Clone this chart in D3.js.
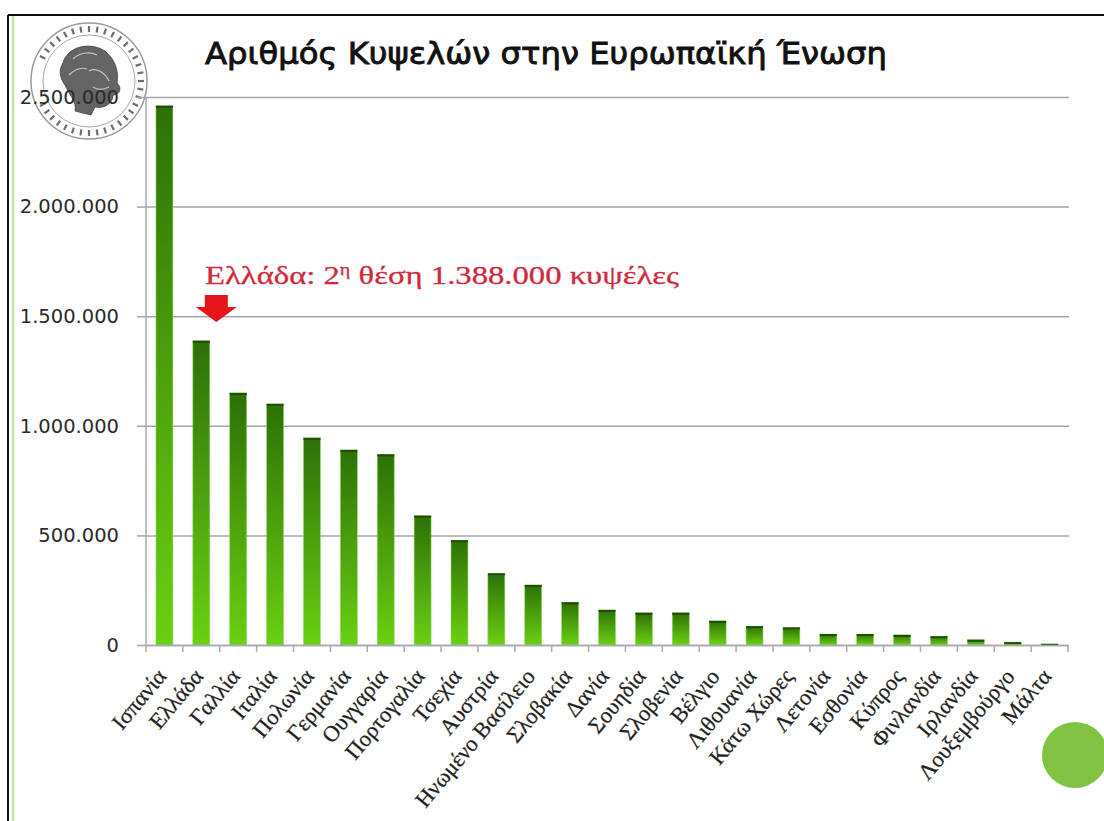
<!DOCTYPE html>
<html>
<head>
<meta charset="utf-8">
<script src="https://cdn.jsdelivr.net/npm/d3@7/dist/d3.min.js"></script>
<style>
  html, body { margin: 0; padding: 0; background: #fff; }
  svg { display: block; }
</style>
</head>
<body>
<svg id="chart" width="1104" height="821"></svg>
<script>
// ---- data ----
const categories = ["Ισπανία","Ελλάδα","Γαλλία","Ιταλία","Πολωνία","Γερμανία","Ουγγαρία","Πορτογαλία","Τσεχία","Αυστρία","Ηνωμένο Βασίλειο","Σλοβακία","Δανία","Σουηδία","Σλοβενία","Βέλγιο","Λιθουανία","Κάτω Χώρες","Λετονία","Εσθονία","Κύπρος","Φινλανδία","Ιρλανδία","Λουξεμβούργο","Μάλτα"];
const hives = [2460000,1388000,1150000,1100000,945000,890000,870000,590000,478000,327000,274000,195000,160000,147000,147000,110000,86000,80000,50000,50000,46000,40000,24000,13000,5000];
const yTickValues = [0,500000,1000000,1500000,2000000,2500000];
const yTickLabels = ["0","500.000","1.000.000","1.500.000","2.000.000","2.500.000"];
const titleText = "Αριθμός Κυψελών στην Ευρωπαϊκή Ένωση";
const highlightCategory = "Ελλάδα";

// ---- layout ----
const svg = d3.select("#chart");
const x0 = 146, x1 = 1068, yBase = 645, yTop = 97;

const x = d3.scaleBand().domain(categories).range([x0, x1]).paddingInner(0.54).paddingOuter(0.27);
const y = d3.scaleLinear().domain([0, 2500000]).range([yBase, yTop]);

const defs = svg.append("defs");
const grad = defs.append("linearGradient").attr("id","barGrad")
  .attr("x1",0).attr("y1",0).attr("x2",0).attr("y2",1);
grad.append("stop").attr("offset","0%").attr("stop-color","#2d7008");
grad.append("stop").attr("offset","45%").attr("stop-color","#4a9c0c");
grad.append("stop").attr("offset","100%").attr("stop-color","#6ad012");

// frame
svg.append("line").attr("x1",8).attr("y1",15).attr("x2",1104).attr("y2",15).attr("stroke","#111").attr("stroke-width",2);
svg.append("line").attr("x1",8).attr("y1",15).attr("x2",8).attr("y2",821).attr("stroke","#111").attr("stroke-width",2);
svg.append("line").attr("x1",13).attr("y1",16).attr("x2",13).attr("y2",821).attr("stroke","#bfe39a").attr("stroke-width",2.5);

// gridlines
svg.append("g").attr("transform",`translate(${x0},0)`)
  .call(d3.axisLeft(y).tickValues(yTickValues).tickSize(-(1069 - x0)).tickFormat(""))
  .call(g => g.select(".domain").remove())
  .call(g => g.selectAll("line").attr("stroke","#a6a6a6").attr("stroke-width",1.5));

// logo seal (drawn under the axis labels)
const logo = svg.append("g").attr("transform","translate(89,81)").attr("opacity",0.85);
logo.append("circle").attr("r",58).attr("fill","#fff").attr("fill-opacity",0.4).attr("stroke","#8a8a8a").attr("stroke-width",1.5);
logo.append("circle").attr("r",46).attr("fill","none").attr("stroke","#9a9a9a").attr("stroke-width",1);
const marks = d3.range(0, 360, 9).filter(a => !(a > 160 && a < 200));
logo.append("g").selectAll("line").data(marks).join("line")
  .attr("x1", a => 49 * Math.cos(a * Math.PI / 180)).attr("y1", a => 49 * Math.sin(a * Math.PI / 180))
  .attr("x2", a => 55 * Math.cos(a * Math.PI / 180)).attr("y2", a => 55 * Math.sin(a * Math.PI / 180))
  .attr("stroke","#555").attr("stroke-width",2.2);
logo.append("path")
  .attr("d","M-26,-18 C-22,-34 0,-40 16,-30 C26,-22 30,-10 28,2 C34,8 30,14 24,14 C24,22 16,28 6,26 L2,34 L-14,30 C-12,20 -20,14 -24,4 C-30,-4 -30,-12 -26,-18 Z")
  .attr("fill","#4a4a4a").attr("stroke","#222").attr("stroke-width",0.8);
logo.append("path")
  .attr("d","M0,-10 C8,-14 16,-8 20,0 M4,6 C10,10 16,8 20,6 M-16,-22 C-10,-28 0,-30 8,-26 M-20,-6 C-14,-12 -8,-14 -2,-12")
  .attr("fill","none").attr("stroke","#bbb").attr("stroke-width",1.2);

// y axis
const yAxis = svg.append("g").attr("transform",`translate(${x0},0)`)
  .call(d3.axisLeft(y).tickValues(yTickValues).tickSize(9).tickPadding(18)
    .tickFormat((d,i) => yTickLabels[i]));
yAxis.select(".domain").attr("stroke","#a9a9b5").attr("stroke-width",1.5).attr("d",`M0,${yTop}V${yBase}`);
yAxis.selectAll(".tick line").attr("stroke","#a6a6a6").attr("stroke-width",1.5);
yAxis.selectAll(".tick text").attr("font-family","DejaVu Sans, sans-serif").attr("font-size",19.5).attr("fill","#2a2a2a");

// bars
svg.append("g").selectAll("rect").data(categories).join("rect")
  .attr("x", d => x(d))
  .attr("y", (d,i) => y(hives[i]))
  .attr("width", x.bandwidth())
  .attr("height", (d,i) => yBase - y(hives[i]))
  .attr("fill","url(#barGrad)")
  .attr("stroke","#9ad86a").attr("stroke-width",0.6);
svg.append("g").selectAll("line").data(categories).join("line")
  .attr("x1", d => x(d)).attr("x2", d => x(d) + x.bandwidth())
  .attr("y1", (d,i) => y(hives[i]) + 1).attr("y2", (d,i) => y(hives[i]) + 1)
  .attr("stroke","#1f4d06").attr("stroke-width",2);

// x axis
const xAxis = svg.append("g").attr("transform",`translate(0,${yBase})`)
  .call(d3.axisBottom(x).tickSize(0).tickPadding(0));
xAxis.select(".domain").attr("stroke","#a9a9b5").attr("stroke-width",1.5);
xAxis.selectAll(".tick text")
  .attr("font-family","Liberation Serif, DejaVu Serif, serif")
  .attr("font-size",22.5).attr("fill","#222")
  .attr("stroke","#222").attr("stroke-width",0.25)
  .attr("text-anchor","end").attr("y",0).attr("dy",0).attr("x",0)
  .attr("transform","translate(3,32) rotate(-50)");
const step = x.step(), gap = step - x.bandwidth();
const bounds = categories.map(c => x(c) - gap / 2).concat([x(categories[categories.length-1]) + x.bandwidth() + gap/2]);
svg.append("g").selectAll("line").data(bounds).join("line")
  .attr("x1", d => d).attr("x2", d => d).attr("y1", yBase).attr("y2", yBase + 7)
  .attr("stroke","#a9a9b5").attr("stroke-width",1.5);

// title
svg.append("text").attr("x",205).attr("y",64).text(titleText)
  .attr("font-family","DejaVu Sans, sans-serif").attr("font-size",31)
  .attr("fill","#111").attr("stroke","#111").attr("stroke-width",0.9)
  .attr("textLength",682).attr("lengthAdjust","spacingAndGlyphs");

// annotation
const hiIdx = categories.indexOf(highlightCategory);
const hx = x(highlightCategory) + x.bandwidth() / 2;
const ann = svg.append("text").attr("x",205).attr("y",284)
  .attr("font-family","Liberation Serif, DejaVu Serif, serif").attr("font-size",26)
  .attr("fill","#cf2a3c").attr("stroke","#cf2a3c").attr("stroke-width",0.3)
  .attr("textLength",474).attr("lengthAdjust","spacingAndGlyphs");
ann.append("tspan").text("Ελλάδα: 2");
ann.append("tspan").text("η").attr("font-size",16).attr("dy",-9);
ann.append("tspan").text(" θέση " + d3.format(",")(hives[hiIdx]).replace(/,/g,".") + " κυψέλες").attr("dy",9);

// arrow
const ax = hx + 15;
svg.append("path")
  .attr("d",`M${ax-11.5},295 H${ax+11.5} V307 H${ax+20.5} L${ax},322 L${ax-20.5},307 H${ax-11.5} Z`)
  .attr("fill","#e8141b");

// green circle
svg.append("circle").attr("cx",1075).attr("cy",755).attr("r",33).attr("fill","#80c241");
</script>
</body>
</html>
